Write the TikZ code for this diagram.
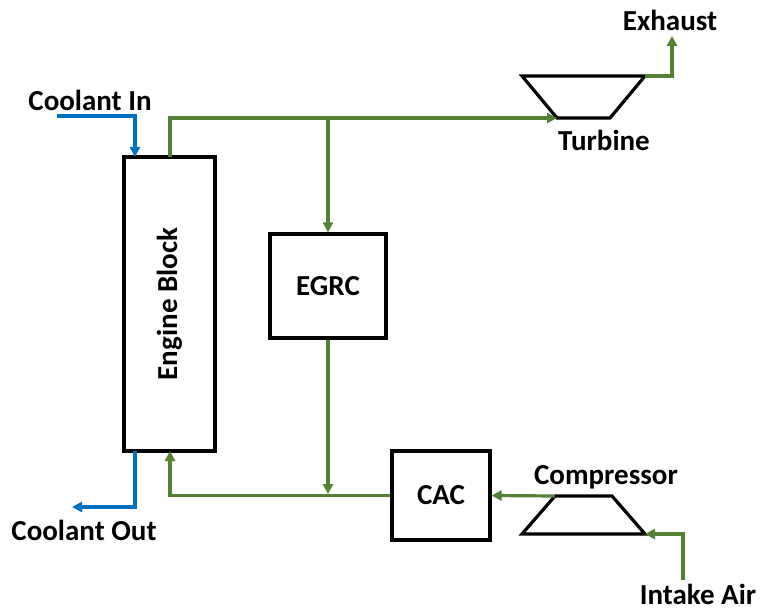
\documentclass[tikz,border=0pt]{standalone}
\usepackage{fontspec}
\setmainfont{Carlito}
\usetikzlibrary{arrows.meta}
\definecolor{flowgreen}{RGB}{84,130,53}
\definecolor{coolblue}{RGB}{0,112,192}
\begin{document}
\begin{tikzpicture}[x=1pt,y=-1pt,
  lbl/.style={font=\fontsize{29}{34}\selectfont\bfseries, inner sep=0pt},
  blk/.style={draw=black, line width=3.2pt, fill=white, font=\fontsize{29}{34}\selectfont\bfseries},
  gflow/.style={draw=flowgreen, line width=3.2pt},
  bflow/.style={draw=coolblue, line width=3.2pt},
  tip/.style={-{Triangle[length=10pt,width=10pt]}}]
\useasboundingbox (0,0) rectangle (760,612);
% boxes
\node[blk, minimum width=91pt, minimum height=294pt, inner sep=0pt] (eng) at (169.5,304) {};
\node[lbl, rotate=90] (englbl) at (169.5,304) {Engine Block};
\node[blk, minimum width=116pt, minimum height=104pt, inner sep=0pt] (egrc) at (328,286) {EGRC};
\node[blk, minimum width=98pt, minimum height=89pt, inner sep=0pt] (cac) at (441,495.5) {CAC};
% turbine trapezoid
\coordinate (t1) at (522,76);
\coordinate (t2) at (645,76);
\coordinate (t3) at (610,118);
\coordinate (t4) at (557,118);
\draw[line width=3.2pt, line join=miter] (t1) -- (t2) -- (t3) -- (t4) -- cycle;
% compressor trapezoid
\coordinate (c1) at (555,496);
\coordinate (c2) at (612,496);
\coordinate (c3) at (645,534);
\coordinate (c4) at (522,534);
\draw[line width=3.2pt, line join=miter] (c1) -- (c2) -- (c3) -- (c4) -- cycle;
% labels
\node[lbl] (cin) at (90,100) {Coolant In};
\node[lbl] (cout) at (84,530) {Coolant Out};
\node[lbl] (exh) at (670,20) {Exhaust};
\node[lbl] (turb) at (604,140) {Turbine};
\node[lbl] (comp) at (606,477) {Compressor};
\node[lbl] (air) at (698,594) {Intake Air};
% coordinates
\coordinate (cinS) at (57,116);
\coordinate (engIn) at (135,157);
\coordinate (engOut) at (135,451);
\coordinate (coutE) at (72,507);
\coordinate (engTop) at (170,157);
\coordinate (engBot) at (170,451);
\coordinate (junc) at (328,118);
\coordinate (exhE) at (672,36);
\coordinate (airS) at (683,580);
\coordinate (jbot) at (328,494);
% coolant
\draw[bflow, tip] (cinS) -| (engIn);
\draw[bflow, tip] (engOut) |- (coutE);
% exhaust side
\draw[gflow, tip] (engTop) |- (t4);
\draw[gflow, tip] (junc) -- (egrc.north);
\draw[gflow, tip] (t2) -| (exhE);
% intake side
\draw[gflow, tip] (egrc.south) -- (jbot);
\draw[gflow, tip] (cac.west) -| (engBot);
\draw[gflow, tip] (c1) -- (cac.east);
\draw[gflow, tip] (airS) |- (c3);
\end{tikzpicture}
\end{document}
